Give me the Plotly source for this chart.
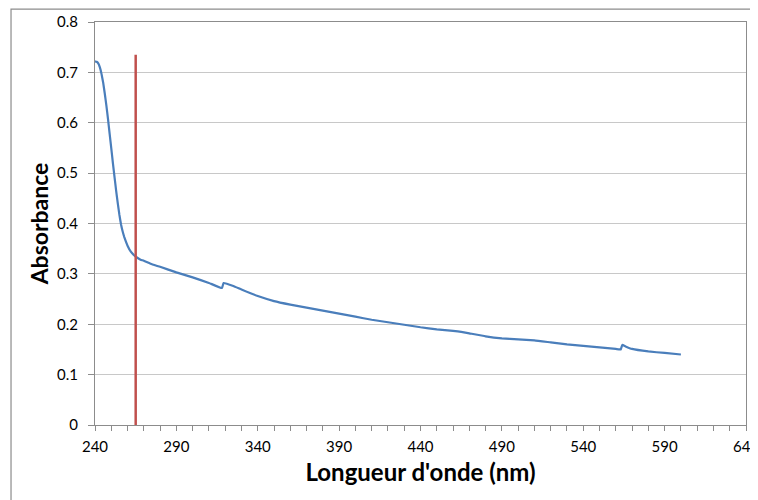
import plotly.graph_objects as go

# Spectrum (nm, absorbance)
wavelength = [240, 241, 242, 243, 244, 245, 246, 247, 248, 249, 250, 251, 252, 253,
              254, 255, 256, 257, 258, 259, 260, 262, 264, 266, 268, 270, 275, 280,
              290, 300, 310, 318, 319, 325, 330, 340, 350, 360, 370, 380, 390, 400,
              410, 420, 430, 440, 450, 460, 465, 470, 480, 490, 500, 510, 520, 530,
              540, 550, 560, 563, 564, 566, 570, 580, 590, 600]
absorbance = [0.722, 0.721, 0.718, 0.710, 0.697, 0.680, 0.658, 0.634, 0.607, 0.578,
              0.549, 0.520, 0.492, 0.465, 0.440, 0.417, 0.398, 0.384, 0.373, 0.364,
              0.356, 0.344, 0.337, 0.332, 0.328, 0.326, 0.319, 0.314, 0.303, 0.293,
              0.282, 0.272, 0.282, 0.276, 0.269, 0.256, 0.246, 0.239, 0.233, 0.227,
              0.221, 0.215, 0.209, 0.204, 0.199, 0.194, 0.190, 0.187, 0.185, 0.182,
              0.176, 0.172, 0.170, 0.168, 0.164, 0.160, 0.157, 0.154, 0.151, 0.150,
              0.159, 0.156, 0.151, 0.146, 0.143, 0.140]

# Vertical marker line
marker_nm = [265, 265]
marker_abs = [0, 0.735]

x_ticks = [240, 290, 340, 390, 440, 490, 540, 590, 640]
y_ticks = [0, 0.1, 0.2, 0.3, 0.4, 0.5, 0.6, 0.7, 0.8]

FONT = "Lato, 'Open Sans', sans-serif"
AXIS_GREY = "#8c8c8c"

fig = go.Figure()
fig.add_trace(go.Scatter(
    x=wavelength, y=absorbance,
    mode="lines",
    line=dict(color="#4a7ebb", width=2.2, shape="spline", smoothing=0.3),
    showlegend=False,
))
fig.add_trace(go.Scatter(
    x=marker_nm, y=marker_abs,
    mode="lines",
    line=dict(color="#c0504d", width=2.5),
    showlegend=False,
))

# Excel-style chart area border
fig.add_shape(type="rect", xref="paper", yref="paper",
              x0=-0.129, x1=1.5, y0=-1.0, y1=1.032,
              line=dict(color=AXIS_GREY, width=1.2), layer="below")

fig.update_layout(
    width=750, height=492,
    paper_bgcolor="white",
    plot_bgcolor="white",
    font=dict(family=FONT, color="#000000", size=14),
    margin=dict(l=87, r=12, t=14, b=75),
    xaxis=dict(
        range=[240, 640],
        tickvals=x_ticks,
        ticks="outside", ticklen=5, tickcolor=AXIS_GREY,
        minor=dict(dtick=10, tick0=240, ticks="outside", ticklen=5, tickcolor=AXIS_GREY),
        showgrid=False, zeroline=False,
        showline=True, linecolor=AXIS_GREY, linewidth=1, mirror=True,
        tickfont=dict(size=15, family=FONT),
        ticklabeloverflow="allow",
        ticklabelstandoff=3,
        automargin=False,
        title=dict(text="<b>Longueur d'onde (nm)</b>", font=dict(size=24, family=FONT), standoff=10),
    ),
    yaxis=dict(
        range=[0, 0.8],
        tickvals=y_ticks,
        ticks="outside", ticklen=6, tickcolor=AXIS_GREY,
        showgrid=True, gridcolor="#c8c8c8", gridwidth=1,
        zeroline=False,
        showline=True, linecolor=AXIS_GREY, linewidth=1, mirror=True,
        tickfont=dict(size=15, family=FONT),
        ticklabelstandoff=7,
        automargin=False,
        title=dict(text="<b>Absorbance</b>", font=dict(size=23, family=FONT), standoff=1),
    ),
)

fig.write_html("out.html")
